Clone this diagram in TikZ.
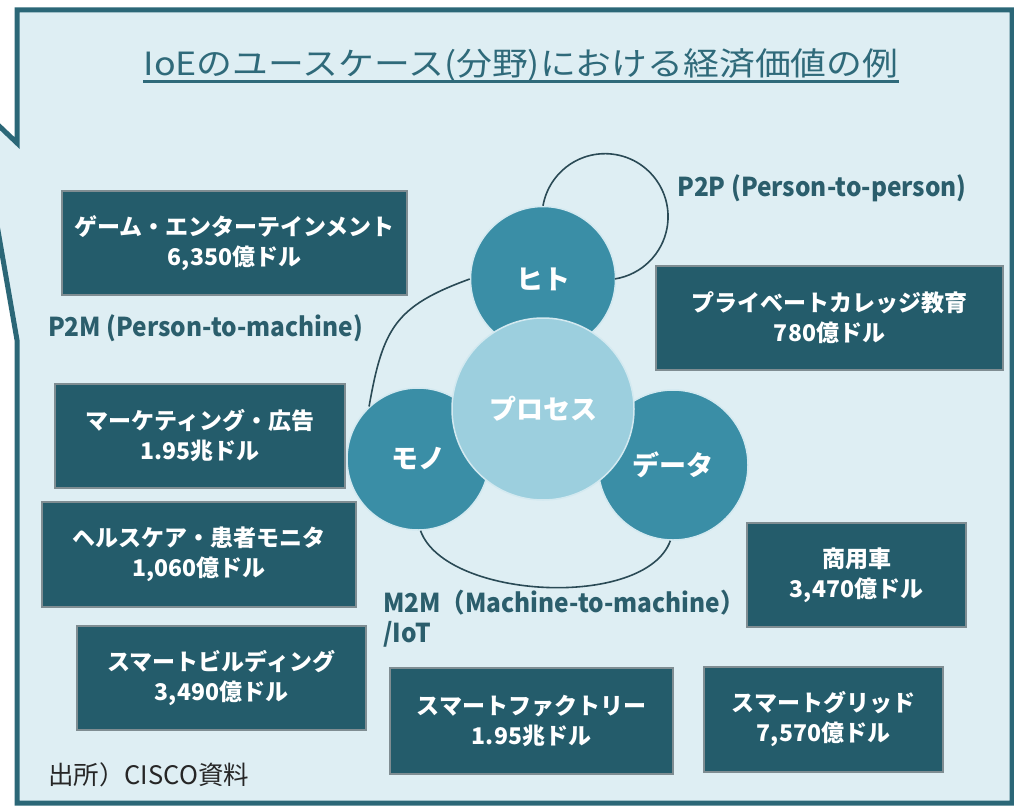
\documentclass[tikz,border=0pt]{standalone}
\usepackage{fontspec}
\newfontfamily\jp{Noto Sans CJK JP}
\newfontfamily\jptitle[FakeStretch=1.12]{Noto Sans CJK JP}
\newfontfamily\jplab[FakeStretch=0.94]{Noto Sans CJK JP}
\definecolor{panelfill}{HTML}{DEEEF3}
\definecolor{panelline}{HTML}{2B6777}
\definecolor{boxc}{HTML}{245C6B}
\definecolor{boxedge}{HTML}{7F8D92}
\definecolor{circc}{HTML}{3A8EA6}
\definecolor{procc}{HTML}{9CCFDE}
\definecolor{circedge}{HTML}{D3E9F0}
\definecolor{linkc}{HTML}{2A4A55}
\definecolor{labc}{HTML}{2B5E6C}
\definecolor{titlec}{HTML}{2F6A7A}
\begin{document}
\begin{tikzpicture}[x=1pt,y=1pt,
  casebox/.style={fill=boxc, draw=boxedge, line width=1.2pt, text=white, align=center,
    inner sep=0pt, font=\jp\bfseries\fontsize{23}{30}\selectfont},
  bigcirc/.style={circle, fill=circc, draw=circedge, line width=1.5pt, text=white,
    inner sep=0pt, font=\jp\bfseries\fontsize{27}{30}\selectfont},
  link/.style={draw=linkc, line width=1.6pt},
  lab/.style={text=labc, inner sep=0pt, anchor=west, align=left,
    font=\jplab\bfseries\fontsize{26}{30}\selectfont}
]
\useasboundingbox (0,0) rectangle (1014,-808);
\begin{scope}
\clip (0,0) rectangle (1014,-808);
\fill[white] (0,0) rectangle (1014,-808);
\filldraw[fill=panelfill, draw=panelline, line width=5pt, line join=miter]
  (17,-10) -- (1012,-10) -- (1012,-803) -- (17,-803) -- (17,-340) -- (-24,-104) -- (17,-143) -- cycle;
\end{scope}

% title
\node[inner sep=0pt, anchor=base, text=titlec, font=\jptitle\fontsize{32}{34}\selectfont] (title) at (521,-75)
  {IoEのユースケース(分野)における経済価値の例};
\draw[titlec, line width=3pt] ([yshift=-6pt]title.base west) -- ([yshift=-6pt]title.base east);

% boxes
\node[casebox, minimum width=345pt, minimum height=104pt] (game) at (234.5,-243)
  {ゲーム・エンターテインメント\\6,350億ドル};
\node[casebox, minimum width=347pt, minimum height=104pt] (college) at (829.5,-318)
  {プライベートカレッジ教育\\780億ドル};
\node[casebox, minimum width=290pt, minimum height=104pt] (marketing) at (200,-436)
  {マーケティング・広告\\1.95兆ドル};
\node[casebox, minimum width=314pt, minimum height=105pt] (health) at (199,-554.5)
  {ヘルスケア・患者モニタ\\1,060億ドル};
\node[casebox, minimum width=289pt, minimum height=104pt] (building) at (221.5,-678)
  {スマートビルディング\\3,490億ドル};
\node[casebox, minimum width=219pt, minimum height=104pt] (vehicle) at (856.5,-575)
  {商用車\\3,470億ドル};
\node[casebox, minimum width=239pt, minimum height=105pt] (grid) at (823.5,-719.5)
  {スマートグリッド\\7,570億ドル};
\node[casebox, minimum width=283pt, minimum height=106pt] (factory) at (531.5,-721)
  {スマートファクトリー\\1.95兆ドル};

% circles
\node[bigcirc, minimum size=145pt] (hito) at (543,-279) {ヒト};
\node[bigcirc, minimum size=142pt] (mono) at (418,-459) {モノ};
\node[bigcirc, minimum size=150pt] (data) at (673,-465) {データ};
\node[bigcirc, fill=procc, minimum size=182pt] (proc) at (543,-409) {プロセス};

% relations
\draw[link] (hito.north) arc[start angle=170, end angle=-81, radius=63];
\draw[link] (hito.west) to[out=200, in=80, looseness=1.25] (mono.133);
\draw[link] (mono.-88) to[out=-70, in=-110, looseness=0.75] (data.-92);

% labels
\node[lab] (p2p) at (677,-188) {P2P (Person-to-person)};
\node[lab] (p2m) at (48,-328) {P2M (Person-to-machine)};
\node[lab] (m2m) at (383,-619) {M2M（Machine-to-machine）\\/IoT};
\node[inner sep=0pt, anchor=west, text=black!85, font=\jp\fontsize{25.5}{28}\selectfont] (src) at (48,-775)
  {出所）CISCO資料};
\end{tikzpicture}
\end{document}
